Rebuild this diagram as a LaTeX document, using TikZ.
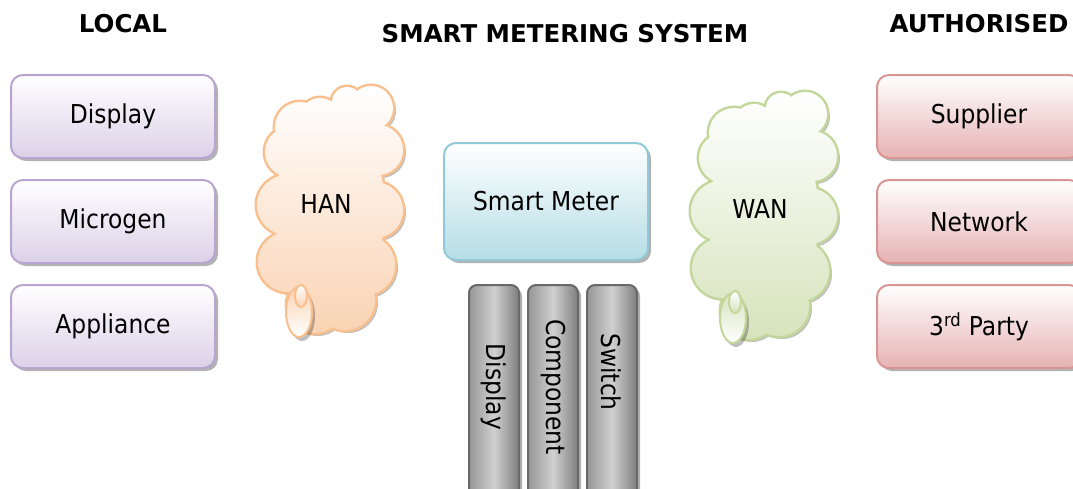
\documentclass[tikz,border=0pt]{standalone}
\usepackage{fontspec}
\setmainfont{DejaVu Sans}
\newfontfamily\lblfont[FakeStretch=0.9]{DejaVu Sans}
\usetikzlibrary{shapes.geometric,shadows}
\definecolor{purpB}{RGB}{184,166,208}
\definecolor{purpF}{RGB}{219,209,232}
\definecolor{pinkB}{RGB}{217,149,149}
\definecolor{pinkF}{RGB}{230,178,178}
\definecolor{blueB}{RGB}{146,201,216}
\definecolor{blueF}{RGB}{181,221,230}
\definecolor{peachB}{RGB}{248,192,143}
\definecolor{peachF}{RGB}{250,211,179}
\definecolor{greenB}{RGB}{195,214,155}
\definecolor{greenF}{RGB}{214,227,188}
\definecolor{barB}{RGB}{105,105,105}
\definecolor{barL}{RGB}{150,150,150}
\definecolor{barM}{RGB}{208,208,208}
\definecolor{barR}{RGB}{125,125,125}
\tikzset{
  shad/.style={drop shadow={shadow xshift=3pt,shadow yshift=-3pt,fill=black,opacity=0.3}},
  box/.style={shad,rounded corners=12pt,minimum width=204pt,minimum height=83pt,line width=2pt,
     font=\lblfont\fontsize{26}{29}\selectfont,inner sep=0pt},
  lbox/.style={box,draw=purpB,top color=white,bottom color=purpF},
  rbox/.style={box,draw=pinkB,top color=white,bottom color=pinkF},
  mbox/.style={box,draw=blueB,top color=white,bottom color=blueF,minimum height=117pt},
  bar/.style={shad,rounded corners=8pt,minimum width=50pt,minimum height=215pt,line width=2pt,
     draw=barB,left color=barL,right color=barR,middle color=barM,inner sep=0pt},
  bartext/.style={rotate=-90,font=\lblfont\fontsize{26}{29}\selectfont},
  cloudpath/.style={insert path={
     (300,127) circle[radius=25] (320,118) circle[radius=20] (347,102) circle[radius=15]
     (371,108) circle[radius=22] (378,150) circle[radius=25] (375,210) circle[radius=28]
     (365,265) circle[radius=30] (345,300) circle[radius=30] (315,305) circle[radius=28]
     (288,262) circle[radius=30] (287,205) circle[radius=30] (290,152) circle[radius=25]
     (350,126) circle[radius=20]
     (330,210) ellipse[x radius=55,y radius=95]}},
  title/.style={font=\fontsize{24.5}{28}\selectfont\bfseries},
  lbl/.style={font=\lblfont\fontsize{26}{29}\selectfont}
}
\newcommand\drawcloud[2]{%
  \fill[black,opacity=0.25,shift={(3,3)},cloudpath];
  \draw[#1,line width=5pt,cloudpath];
  \path[top color=white,bottom color=#2,cloudpath];
  \fill[black,opacity=0.25] (302,316) ellipse[x radius=13,y radius=25];
  \draw[#1,line width=2pt,top color=#2,bottom color=white] (299,312) ellipse[x radius=13,y radius=25];
  \draw[#1,line width=2pt,top color=white,bottom color=#2] (301,296) ellipse[x radius=6,y radius=11];
}
\begin{document}
\begin{tikzpicture}[x=1pt,y=-1pt]
\useasboundingbox (0,0) rectangle (1073,488);
% titles
\node[title] (tl) at (123,24) {LOCAL};
\node[title] (tm) at (565,34) {SMART METERING SYSTEM};
\node[title] (tr) at (979,24) {AUTHORISED};
% left boxes
\node[lbox] (l1) at (113,116.5) {Display};
\node[lbox] (l2) at (113,221.5) {Microgen};
\node[lbox] (l3) at (113,326.5) {Appliance};
% right boxes
\node[rbox] (r1) at (979,116.5) {Supplier};
\node[rbox] (r2) at (979,221.5) {Network};
\node[rbox] (r3) at (979,326.5) {3\textsuperscript{rd} Party};
% smart meter
\node[mbox] (sm) at (546,201.5) {Smart Meter};
% bars
\node[bar] (b1) at (494,392.5) {};
\node[bar] (b2) at (553,392.5) {};
\node[bar] (b3) at (612,392.5) {};
\node[bartext] (t1) at (494,387) {Display};
\node[bartext] (t2) at (553,387) {Component};
\node[bartext] (t3) at (611,372) {Switch};
% clouds
\begin{scope}
\drawcloud{peachB}{peachF}
\end{scope}
\node[lbl] (hant) at (326,204) {HAN};
\begin{scope}[shift={(434,6)}]
\drawcloud{greenB}{greenF}
\end{scope}
\node[lbl] (want) at (760,209) {WAN};
\end{tikzpicture}
\end{document}
